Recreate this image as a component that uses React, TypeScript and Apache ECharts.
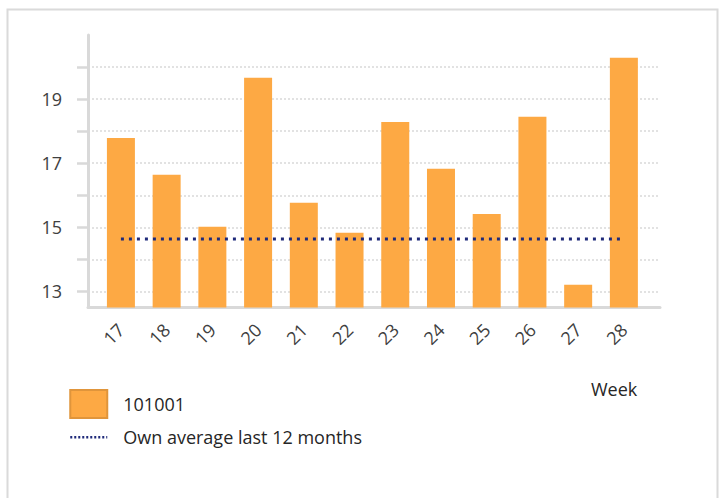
import React, { useEffect, useRef } from 'react';
import * as echarts from 'echarts';

const weeks = [17, 18, 19, 20, 21, 22, 23, 24, 25, 26, 27, 28];
const values = [17.79, 16.64, 15.02, 19.67, 15.77, 14.83, 18.29, 16.83, 15.42, 18.45, 13.21, 20.29];
const ownAverage = 14.64;
const yTickValues = [13, 14, 15, 16, 17, 18, 19, 20];
const yLabelValues = [13, 15, 17, 19];
const seriesName = '101001';
const avgName = 'Own average last 12 months';
const xTitle = 'Week';

const FONT = '"Open Sans", sans-serif';
const TEXT = '#404040';
const GRID = '#D9D9D9';

export default function App() {
  const ref = useRef<HTMLDivElement>(null);
  useEffect(() => {
    if (!ref.current) return;
    const chart = echarts.init(ref.current, undefined, { renderer: 'svg' });
    chart.setOption({
      animation: false,
      backgroundColor: '#ffffff',
      textStyle: { fontFamily: FONT },
      title: {
        text: xTitle,
        left: 591,
        top: 380,
        padding: 0,
        textStyle: { fontFamily: FONT, fontSize: 18, fontWeight: 'normal', color: '#262626' },
      },
      graphic: [
        {
          type: 'rect',
          shape: { x: 7.5, y: 9.5, width: 710, height: 520 },
          style: { fill: 'none', stroke: '#DADADA', lineWidth: 2 },
          silent: true,
        },
      ],
      grid: { left: 88, right: 68, top: 35, bottom: 190.5, containLabel: false },
      xAxis: {
        type: 'value',
        min: 16.28,
        max: 28.79,
        splitLine: { show: false },
        axisTick: { show: false },
        axisLine: { show: true, lineStyle: { color: '#D9D9D9', width: 3 } },
        axisLabel: {
          customValues: weeks,
          rotate: 45,
          margin: 19,
          fontSize: 18,
          color: TEXT,
          fontFamily: FONT,
        },
      },
      yAxis: {
        type: 'value',
        min: 12.5,
        max: 21,
        axisLine: { show: true, lineStyle: { color: '#D9D9D9', width: 3 } },
        axisTick: {
          show: true,
          customValues: yTickValues,
          length: 11,
          lineStyle: { color: '#D9D9D9', width: 2.5 },
        },
        axisLabel: {
          customValues: yLabelValues,
          margin: 26,
          fontSize: 18,
          color: TEXT,
          fontFamily: FONT,
        },
        splitLine: {
          show: true,
          lineStyle: { color: GRID, width: 1.5, type: [2, 2] },
        },
      },
      legend: {
        left: 69,
        top: 389,
        padding: 0,
        orient: 'vertical',
        itemWidth: 37,
        itemHeight: 28,
        itemGap: 7,
        textStyle: { fontSize: 18, color: '#262626', fontFamily: FONT, padding: [0, 0, 0, 11] },
        data: [
          { name: seriesName, icon: 'rect', itemStyle: { borderColor: '#E0953B', borderWidth: 2 } },
          { name: avgName, itemStyle: { opacity: 0 }, lineStyle: { width: 2.5, type: [2, 2] } },
        ],
      },
      series: [
        {
          name: seriesName,
          type: 'bar',
          barWidth: 28,
          itemStyle: { color: '#FDA944' },
          data: weeks.map((w, i) => [w, values[i]]),
          z: 2,
        },
        {
          name: avgName,
          type: 'line',
          symbol: 'none',
          lineStyle: { color: '#1F2A7A', width: 3, type: [3, 5] },
          itemStyle: { color: '#1F2A7A' },
          data: weeks.map((w) => [w, ownAverage]),
          z: 3,
        },
      ],
    });
    return () => chart.dispose();
  }, []);
  return (
    <div
      ref={ref}
      style={{ position: 'fixed', left: 0, top: 0, width: 728, height: 498, background: '#fff' }}
    />
  );
}
